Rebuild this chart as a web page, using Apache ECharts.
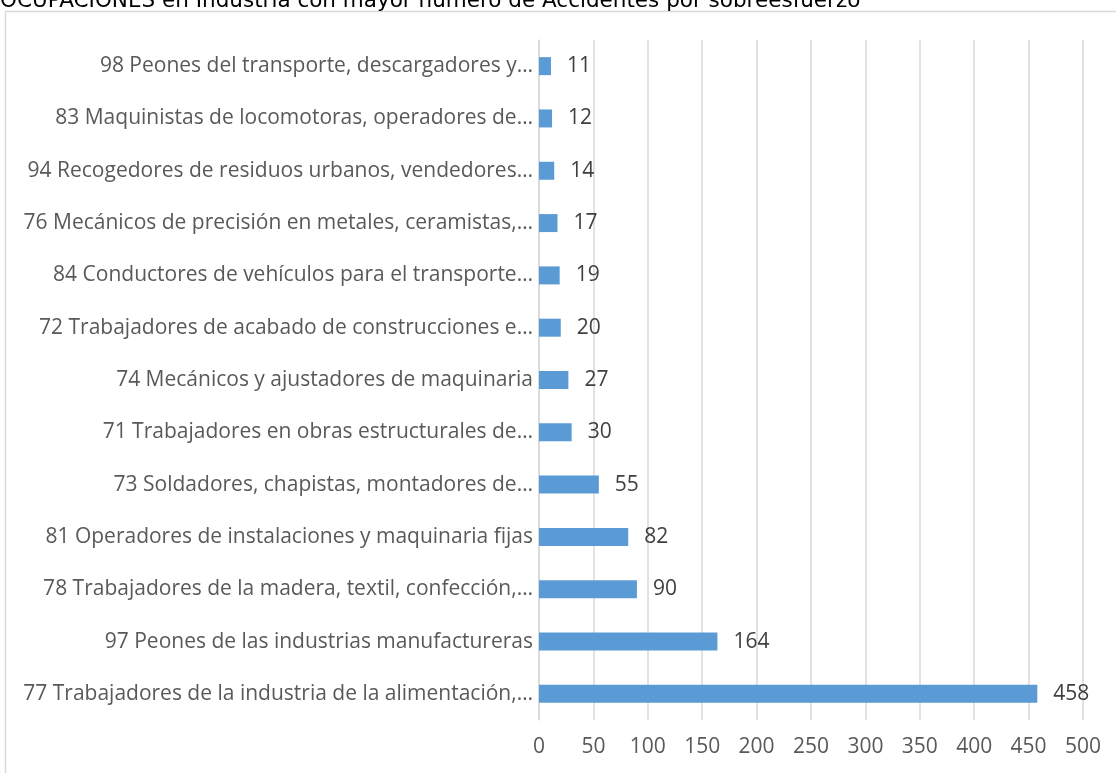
<!DOCTYPE html>
<html>
<head>
<meta charset="utf-8">
<script src="https://cdn.jsdelivr.net/npm/echarts@6/dist/echarts.min.js"></script>
<style>
  html, body { margin: 0; padding: 0; background: #fff; }
  #chart { width: 1116px; height: 773px; }
</style>
</head>
<body>
<div id="chart"></div>
<script>
// Ocupaciones con más accidentes por sobreesfuerzo (barra horizontal)
const categories = [
  '77 Trabajadores de la industria de la alimentación,…',
  '97 Peones de las industrias manufactureras',
  '78 Trabajadores de la madera, textil, confección,…',
  '81 Operadores de instalaciones y maquinaria fijas',
  '73 Soldadores, chapistas, montadores de…',
  '71 Trabajadores en obras estructurales de…',
  '74 Mecánicos y ajustadores de maquinaria',
  '72 Trabajadores de acabado de construcciones e…',
  '84 Conductores de vehículos para el transporte…',
  '76 Mecánicos de precisión en metales, ceramistas,…',
  '94 Recogedores de residuos urbanos, vendedores…',
  '83 Maquinistas de locomotoras, operadores de…',
  '98 Peones del transporte, descargadores y…'
];
const values = [458, 164, 90, 82, 55, 30, 27, 20, 19, 17, 14, 12, 11];
const xTicks = { min: 0, max: 500, interval: 50 };

const titleText = 'OCUPACIONES en Industria con mayor número de Accidentes por sobreesfuerzo';
const FONT = '"Open Sans", sans-serif';

const chart = echarts.init(document.getElementById('chart'));
chart.setOption({
  animation: false,
  backgroundColor: '#fff',
  graphic: [
    {
      type: 'rect',
      shape: { x: 5.5, y: 11.5, width: 1120, height: 800 },
      style: { fill: 'none', stroke: '#d9d9d9', lineWidth: 1.5 },
      silent: true
    },
    {
      type: 'text',
      left: 0,
      top: -10,
      style: { text: titleText, font: '21.5px "DejaVu Sans", Verdana, sans-serif', fill: '#000' },
      silent: true
    }
  ],
  grid: { left: 539, right: 33, top: 40, bottom: 53 },
  xAxis: {
    type: 'value',
    min: xTicks.min,
    max: xTicks.max,
    interval: xTicks.interval,
    axisLine: { show: false },
    axisTick: { show: false },
    splitLine: { lineStyle: { color: '#d9d9d9', width: 1.5 } },
    axisLabel: { color: '#595959', fontSize: 21, fontFamily: FONT, margin: 17 }
  },
  yAxis: {
    type: 'category',
    data: categories,
    axisLine: { show: true, lineStyle: { color: '#d9d9d9', width: 1.5 } },
    axisTick: { show: false },
    axisLabel: { color: '#595959', fontSize: 21, fontFamily: FONT, margin: 6 }
  },
  series: [{
    type: 'bar',
    data: values,
    barWidth: 18,
    itemStyle: { color: '#5b9bd5' },
    label: {
      show: true,
      position: 'right',
      distance: 16,
      color: '#404040',
      fontSize: 21,
      fontFamily: FONT
    }
  }]
});
</script>
</body>
</html>
